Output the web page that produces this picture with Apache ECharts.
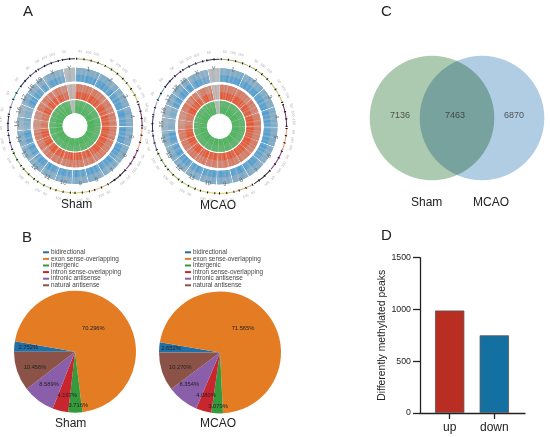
<!DOCTYPE html>
<html>
<head>
<meta charset="utf-8">
<style>
  html, body { margin: 0; padding: 0; background: #fff; }
  #main { width: 550px; height: 437px; }
</style>
</head>
<body>
<div id="main"></div>
<script src="https://cdn.jsdelivr.net/npm/echarts@6/dist/echarts.min.js"></script>
<script>
// panel A: chromosomes, clockwise from the top
const chromosomes = ['1','2','3','4','5','6','7','8','9','10','11','12','13','14','15','16','17','18','19','X','Y']
const chromosomeLengths = [195,182,160,157,152,150,145,129,124,131,122,120,120,125,104,98,95,91,61,171,91]
const chromosomeBands = ['#b9a66a','#9aa84e','#c4c25a','#6b2a5a','#eb9a70','#8c3f8f','#333333','#d9a25a','#d8c85a','#d8d06a','#b4cc6a','#9ab85a','#7fb56a','#6a5aa8','#2a2f70','#9a90c8','#4f9aa0','#2a2f70','#6a3f90','#5a6080','#30303a']
const tickLabels = ['50','100','150']

// signal density along each chromosome, 0 = grey only, 9 = full track colour
const shamOuter = ['7868597869','687968579','78596878','68975868','79685978','68796857','7968578','586978','685796','6857968','578696','687957','586795','685796','34546','44534','57968','68575','586','478695746','01301']
const shamMiddle = ['6978587968','789685976','68797586','79685796','87968579','69785968','8796857','697586','786958','7968586','695787','789685','697858','786957','45654','56465','79686','57968','697','579684657','01201']
const shamInner = ['8978698979','798979689','89798978','79899789','98979698','89789979','9879789','897989','798978','8979789','789898','979789','898979','789898','78978','89798','97898','79897','898','789879687','10210']
const mcaoOuter = ['8679586879','769685879','68695878','79685968','68795978','79685867','6879578','698578','586796','7968578','679586','586968','697586','578695','45434','35544','68579','57968','697','579684756','02101']
const mcaoMiddle = ['7968597868','689786957','79685786','68795897','79685868','78969587','7968679','586978','697586','6895787','796858','697968','586979','697868','56545','46556','68798','68579','786','468795647','10201']
const mcaoInner = ['9878979898','898979789','78989879','89797898','87989789','98978987','8979898','978989','897898','7989897','898789','798989','987898','898979','89789','78989','89798','97898','789','897968798','01210']

// panel B
const pieCategories = ['bidirectional','exon sense-overlapping','intergenic','intron sense-overlapping','intronic antisense','natural antisense']
const pieColors = ['#1f6fa8','#e47c24','#349a3c','#c8262e','#8a5ea8','#8b5347']
const shamPercent = [2.752, 70.296, 3.716, 4.197, 8.589, 10.456]
const mcaoPercent = [2.652, 71.565, 3.079, 4.080, 8.354, 10.270]
const shamPercentText = ['2.752%','70.296%','3.716%','4.197%','8.589%','10.456%']
const mcaoPercentText = ['2.652%','71.565%','3.079%','4.080%','8.354%','10.270%']
const shamLabelSpots = [[-46.7,-4.3],[18.3,-23],[3.3,54],[-7.7,44],[-26,33],[-40,15.7]]
const mcaoLabelSpots = [[-49,-3.7],[23,-23.7],[-2,53.7],[-14,43.3],[-30.7,32.3],[-39.7,14.7]]

// panel C
const vennCounts = [7136, 7463, 6870]
const vennCountX = [-0.64, 0.46, 1.64]

// panel D
const barCategories = ['up', 'down']
const barValues = [990, 750]
const barColors = ['#b92e22', '#1570a2']

const font = '"Liberation Sans", Arial, sans-serif'
const chromosomeGap = 8

const mixColor = (color, level) => {
  const a = [190, 190, 190]
  const b = [parseInt(color.slice(1, 3), 16), parseInt(color.slice(3, 5), 16), parseInt(color.slice(5, 7), 16)]
  const t = level / 9
  return 'rgb(' + a.map((v, i) => Math.round(v + (b[i] - v) * t)).join(',') + ')'
}

const gapSlice = () => ({ value: chromosomeGap, itemStyle: { color: 'transparent' } })

const ringPie = (center, radius, data, extra) => Object.assign({
  type: 'pie',
  center,
  radius,
  startAngle: 90,
  clockwise: true,
  silent: true,
  avoidLabelOverlap: false,
  label: { show: false },
  labelLine: { show: false },
  data
}, extra)

const trackSeries = (center, radius, density, color, haze) => {
  const base = []
  const data = []
  const top = []
  density.forEach((bins, c) => {
    base.push(gapSlice())
    data.push(gapSlice())
    top.push(gapSlice())
    const levels = bins.split('').map(Number)
    const mean = levels.reduce((a, b) => a + b, 0) / levels.length
    base.push({ value: chromosomeLengths[c], itemStyle: { color: mixColor(color, mean) } })
    top.push({ value: chromosomeLengths[c], itemStyle: { color: 'rgba(190,190,190,' + haze + ')' } })
    levels.forEach(level => {
      data.push({
        value: chromosomeLengths[c] / levels.length,
        itemStyle: { color: mixColor(color, level) }
      })
    })
  })
  // the outer part of a track is mostly grey background with a few peaks through it
  const hazeInner = radius[0] + (radius[1] - radius[0]) * 0.5
  return [
    ringPie(center, radius, base),
    ringPie(center, radius, data),
    ringPie(center, [hazeInner, radius[1]], top)
  ]
}

const circosSeries = (center, tracks) => {
  const list = [
    ...trackSeries(center, [44.5, 58], tracks[0], '#4f9fd2', 0.4),
    ...trackSeries(center, [27, 41.5], tracks[1], '#e8532f', 0.35),
    ...trackSeries(center, [12.7, 25.5], tracks[2], '#4cb45c', 0.15)
  ]

  // chromosome names sit on the outer edge of the first track
  const nameData = []
  chromosomes.forEach((name, c) => {
    nameData.push(gapSlice())
    nameData.push({ name, value: chromosomeLengths[c], itemStyle: { color: 'transparent' } })
  })
  list.push(ringPie(center, [50, 60], nameData, {
    label: {
      show: true,
      position: 'inside',
      rotate: 'tangential',
      fontFamily: font,
      fontSize: 6,
      color: '#666',
      formatter: p => p.name
    }
  }))

  // thin coloured band with black marks and Mb labels
  const bandData = []
  const markData = []
  const tickData = []
  chromosomes.forEach((name, c) => {
    bandData.push(gapSlice())
    markData.push(gapSlice())
    tickData.push(gapSlice())
    bandData.push({ value: chromosomeLengths[c], itemStyle: { color: chromosomeBands[c] } })
    let left = chromosomeLengths[c]
    let k = 0
    while (left > 0) {
      const step = Math.min(left, 50)
      markData.push({ value: Math.min(step, 7), itemStyle: { color: '#111' } })
      markData.push({ value: Math.max(step - 7, 0), itemStyle: { color: 'transparent' } })
      tickData.push({
        name: step === 50 && k < tickLabels.length ? tickLabels[k] : '',
        value: step,
        itemStyle: { color: 'transparent' }
      })
      left -= step
      k++
    }
  })
  list.push(ringPie(center, [66.6, 67.6], bandData))
  list.push(ringPie(center, [66, 68.2], markData))
  list.push(ringPie(center, [69.5, 73.5], tickData, {
    label: {
      show: true,
      position: 'inside',
      rotate: 'tangential',
      fontFamily: font,
      fontSize: 3.5,
      color: '#aaa',
      formatter: p => p.name
    }
  }))
  return list
}

const percentPie = (center, values, texts, spots) => ({
  type: 'pie',
  center,
  radius: [0, 61],
  startAngle: 180,
  clockwise: true,
  silent: true,
  avoidLabelOverlap: false,
  labelLine: { show: false },
  label: {
    show: true,
    position: 'inside',
    fontFamily: font,
    fontSize: 5.75,
    color: '#222',
    align: 'center',
    verticalAlign: 'middle',
    formatter: p => texts[p.dataIndex]
  },
  labelLayout: p => ({
    x: center[0] + spots[p.dataIndex][0],
    y: center[1] + spots[p.dataIndex][1]
  }),
  data: pieCategories.map((name, i) => ({
    name,
    value: values[i],
    itemStyle: { color: pieColors[i] }
  }))
})

const pieLegend = (left) => ({
  left,
  top: 249,
  orient: 'vertical',
  icon: 'rect',
  itemWidth: 6,
  itemHeight: 2,
  itemGap: 0,
  padding: 0,
  selectedMode: false,
  data: pieCategories,
  textStyle: {
    fontFamily: font,
    fontSize: 6.4,
    lineHeight: 6.6,
    color: '#444',
    padding: [0, 0, 0, -3]
  }
})

const textAt = (text, left, top, fontSize) => ({
  text,
  left,
  top,
  padding: 0,
  textStyle: { fontFamily: font, fontSize, fontWeight: 'normal', color: '#222' }
})

const option = {
  animation: false,
  backgroundColor: '#fff',
  title: [
    textAt('A', 23, 4, 15),
    textAt('B', 22, 230, 15),
    textAt('C', 381, 4, 15),
    textAt('D', 381, 228, 15),
    textAt('Sham', 61, 199, 12),
    textAt('MCAO', 200, 200, 12),
    textAt('Sham', 55, 418, 12),
    textAt('MCAO', 200, 418, 12),
    textAt('Sham', 411, 197, 12),
    textAt('MCAO', 473, 197, 12)
  ],
  legend: [pieLegend(43), pieLegend(185)],
  grid: [
    { left: 382, top: 68, width: 150, height: 100 },
    { left: 427.4, top: 257.7, width: 89.2, height: 155.3 },
    { left: 420, top: 257.7, width: 105, height: 155.3 }
  ],
  xAxis: [
    { gridIndex: 0, type: 'value', min: -1, max: 2, show: false },
    {
      gridIndex: 1,
      type: 'category',
      data: barCategories,
      axisLine: { show: false },
      axisTick: { show: true, alignWithLabel: true, length: 6, lineStyle: { color: '#222', width: 1.3 } },
      axisLabel: { margin: 9, fontFamily: font, fontSize: 12, color: '#222' }
    },
    // baseline only, it runs past the categories on both sides
    {
      gridIndex: 2,
      type: 'value',
      min: 0,
      max: 1,
      splitLine: { show: false },
      axisTick: { show: false },
      axisLabel: { show: false },
      axisLine: { show: true, onZero: false, lineStyle: { color: '#222', width: 1.3 } }
    }
  ],
  yAxis: [
    { gridIndex: 0, type: 'value', min: -1, max: 1, show: false },
    {
      gridIndex: 1,
      type: 'value',
      min: 0,
      max: 1500,
      interval: 500,
      offset: 7.4,
      name: 'Differently methylated peaks',
      nameLocation: 'middle',
      nameRotate: 90,
      nameGap: 32,
      nameTextStyle: { fontFamily: font, fontSize: 10.4, color: '#222' },
      splitLine: { show: false },
      axisLine: { show: true, onZero: false, lineStyle: { color: '#222', width: 1.3 } },
      axisTick: { show: true, length: 7, lineStyle: { color: '#222', width: 1.3 } },
      axisLabel: { margin: 9, fontFamily: font, fontSize: 8.8, color: '#222', formatter: v => String(v) }
    },
    { gridIndex: 2, type: 'value', min: 0, max: 1, show: false }
  ],
  series: [
    ...circosSeries([75, 125.8], [shamOuter, shamMiddle, shamInner]),
    ...circosSeries([219.5, 126.3], [mcaoOuter, mcaoMiddle, mcaoInner]),
    percentPie([75, 351.7], shamPercent, shamPercentText, shamLabelSpots),
    percentPie([220, 352.4], mcaoPercent, mcaoPercentText, mcaoLabelSpots),
    {
      type: 'scatter',
      xAxisIndex: 0,
      yAxisIndex: 0,
      clip: false,
      silent: true,
      symbol: 'circle',
      symbolSize: 124.6,
      blendMode: 'multiply',
      data: [
        { value: [0, 0], itemStyle: { color: 'rgb(172,202,176)', opacity: 1 } },
        { value: [1, 0], itemStyle: { color: 'rgb(176,205,228)', opacity: 1 } }
      ]
    },
    {
      type: 'scatter',
      xAxisIndex: 0,
      yAxisIndex: 0,
      clip: false,
      silent: true,
      symbolSize: 0,
      label: {
        show: true,
        position: 'inside',
        offset: [0, -2],
        fontFamily: font,
        fontSize: 9,
        color: '#333',
        formatter: p => vennCounts[p.dataIndex]
      },
      data: vennCountX.map(x => [x, 0])
    },
    {
      type: 'bar',
      xAxisIndex: 1,
      yAxisIndex: 1,
      barWidth: 29.3,
      silent: true,
      data: barValues.map((v, i) => ({
        value: v,
        itemStyle: { color: barColors[i], borderColor: '#555', borderWidth: 0.8 }
      }))
    }
  ]
}

const chart = echarts.init(document.getElementById('main'))
chart.setOption(option)
</script>
</body>
</html>
